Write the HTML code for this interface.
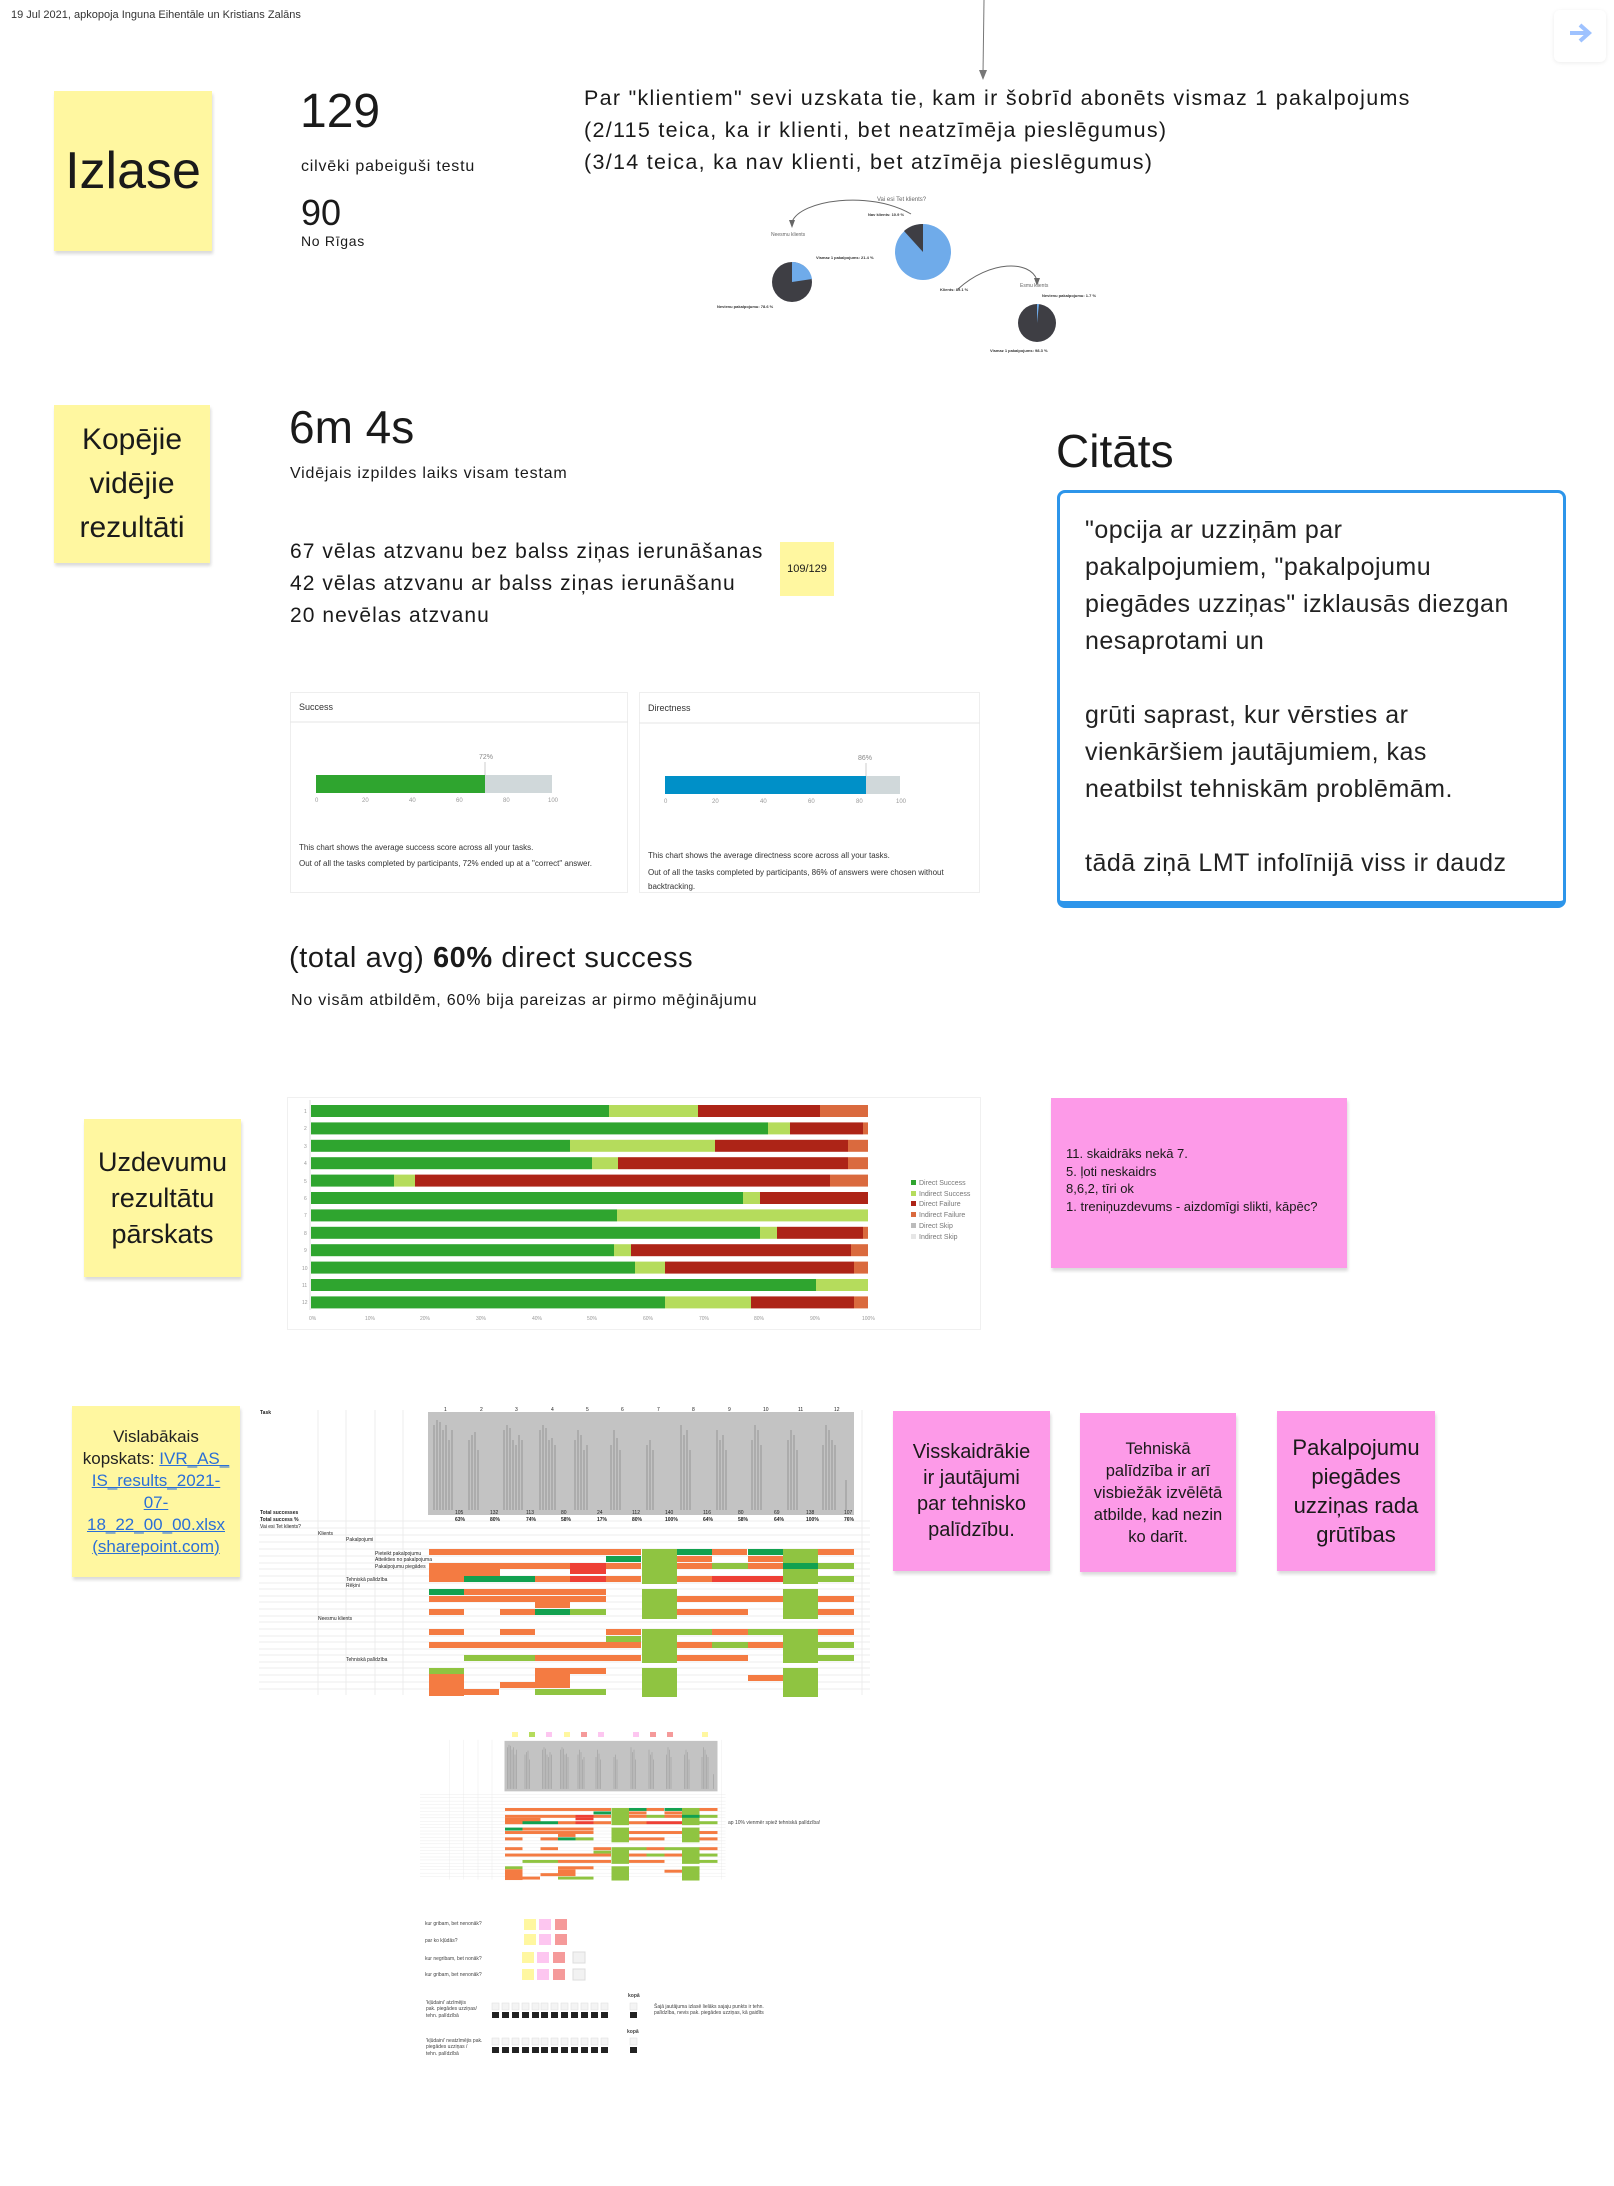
<!DOCTYPE html>
<html><head><meta charset="utf-8"><style>
body{margin:0;width:1614px;height:2186px;position:relative;background:#fff;font-family:"Liberation Sans",sans-serif;color:#1a1a1a;overflow:hidden}
.a{position:absolute;white-space:nowrap}
.st{position:absolute;box-shadow:1px 3px 3px rgba(0,0,0,.15)}
.y{background:#fff7a0}.p{background:#fd9ae8}
.c{text-align:center;white-space:normal;display:flex;align-items:center;justify-content:center;flex-direction:column}
.w{letter-spacing:0.05em}
</style></head><body>
<div class="a" style="left:11px;top:9px;font-size:11px;color:#333">19 Jul 2021, apkopoja Inguna Eihentāle un Kristians Zalāns</div>
<div class="a" style="left:1554px;top:10px;width:52px;height:52px;border-radius:6px;box-shadow:0 1px 4px rgba(0,0,0,.08)"></div>
<svg class="a" style="left:1568px;top:22px" width="26" height="22"><path d="M2,11 H20 M12,3 L21,11 L12,19" fill="none" stroke="#9ec2ff" stroke-width="4"/></svg>

<svg class="a" style="left:0;top:0" width="1614" height="2186">
<line x1="984" y1="0" x2="983" y2="74" stroke="#777" stroke-width="1"/>
<polygon points="979,70 987,70 983,80" fill="#777"/>
<circle cx="923" cy="252" r="28" fill="#6fabea"/>
<path d="M923,252 L923,224 A28,28 0 0,0 904,231 Z" fill="#3e3e44"/>
<circle cx="792" cy="282" r="20" fill="#3e3e44"/>
<path d="M792,282 L792,262 A20,20 0 0,1 812,279 Z" fill="#6fabea"/>
<circle cx="1037" cy="323" r="19" fill="#3e3e44"/>
<path d="M1037,323 L1037,304 A19,19 0 0,1 1039,304 Z" fill="#6fabea"/>
<path d="M911,214 C870,190 800,200 792,222" fill="none" stroke="#666" stroke-width="1"/>
<polygon points="789,220 795,220 792,228" fill="#666"/>
<path d="M958,289 C990,260 1030,260 1037,280" fill="none" stroke="#666" stroke-width="1"/>
<polygon points="1034,278 1040,278 1037,286" fill="#666"/>
<g font-size="4" fill="#333" font-family="Liberation Sans">
<text x="877" y="201" font-size="6" fill="#666">Vai esi Tet klients?</text>
<text x="771" y="236" font-size="5" fill="#666">Neesmu klients</text>
<text x="1020" y="287" font-size="5" fill="#666">Esmu klients</text>
<text x="868" y="216" font-weight="bold">Nav klients: 10.9 %</text>
<text x="816" y="259" font-weight="bold">Vismaz 1 pakalpojums: 21.4 %</text>
<text x="940" y="291" font-weight="bold">Klients: 89.1 %</text>
<text x="717" y="308" font-weight="bold">Nevienu pakalpojumu: 78.6 %</text>
<text x="1042" y="297" font-weight="bold">Nevienu pakalpojumu: 1.7 %</text>
<text x="990" y="352" font-weight="bold">Vismaz 1 pakalpojums: 98.3 %</text>
</g>
<rect x="290.5" y="692.5" width="337" height="200" fill="none" stroke="#eee"/>
<line x1="290" y1="722" x2="628" y2="722" stroke="#e6e6e6"/>
<rect x="316" y="775" width="169" height="18" fill="#2fa52f"/>
<rect x="485" y="775" width="67" height="18" fill="#d0d8da"/>
<line x1="485" y1="762" x2="485" y2="775" stroke="#ccc"/>
<rect x="639.5" y="692.5" width="340" height="200" fill="none" stroke="#eee"/>
<line x1="639" y1="723" x2="980" y2="723" stroke="#e6e6e6"/>
<rect x="665" y="776" width="201" height="18" fill="#0090c8"/>
<rect x="866" y="776" width="34" height="18" fill="#d0d8da"/>
<line x1="866" y1="763" x2="866" y2="776" stroke="#ccc"/>
<g font-size="9" fill="#333">
<text x="299" y="710" font-size="9">Success</text>
<text x="648" y="711">Directness</text>
<text x="479" y="759" font-size="7" fill="#888">72%</text>
<text x="858" y="760" font-size="7" fill="#888">86%</text>
<text x="299" y="850" font-size="8">This chart shows the average success score across all your tasks.</text>
<text x="299" y="866" font-size="8">Out of all the tasks completed by participants, 72% ended up at a "correct" answer.</text>
<text x="648" y="858" font-size="8">This chart shows the average directness score across all your tasks.</text>
<text x="648" y="875" font-size="8">Out of all the tasks completed by participants, 86% of answers were chosen without</text>
<text x="648" y="889" font-size="8">backtracking.</text>
</g>
<g font-size="6" fill="#999">
<text x="315" y="802">0</text><text x="362" y="802">20</text><text x="409" y="802">40</text><text x="456" y="802">60</text><text x="503" y="802">80</text><text x="548" y="802">100</text>
<text x="664" y="803">0</text><text x="712" y="803">20</text><text x="760" y="803">40</text><text x="808" y="803">60</text><text x="856" y="803">80</text><text x="896" y="803">100</text>
</g>
<rect x="287.5" y="1097.5" width="693" height="232" fill="none" stroke="#f0f0f0"/>
<line x1="310" y1="1100" x2="310" y2="1310" stroke="#ddd"/>
<g>
<rect x="311" y="1105" width="298" height="12" fill="#2fa52f"/><rect x="609" y="1105" width="89" height="12" fill="#b5dc5c"/><rect x="698" y="1105" width="122" height="12" fill="#ad2417"/><rect x="820" y="1105" width="48" height="12" fill="#da6a3e"/>
<rect x="311" y="1122.4" width="457" height="12" fill="#2fa52f"/><rect x="768" y="1122.4" width="22" height="12" fill="#b5dc5c"/><rect x="790" y="1122.4" width="73" height="12" fill="#ad2417"/><rect x="863" y="1122.4" width="5" height="12" fill="#da6a3e"/>
<rect x="311" y="1139.8" width="259" height="12" fill="#2fa52f"/><rect x="570" y="1139.8" width="145" height="12" fill="#b5dc5c"/><rect x="715" y="1139.8" width="133" height="12" fill="#ad2417"/><rect x="848" y="1139.8" width="20" height="12" fill="#da6a3e"/>
<rect x="311" y="1157.2" width="281" height="12" fill="#2fa52f"/><rect x="592" y="1157.2" width="26" height="12" fill="#b5dc5c"/><rect x="618" y="1157.2" width="230" height="12" fill="#ad2417"/><rect x="848" y="1157.2" width="20" height="12" fill="#da6a3e"/>
<rect x="311" y="1174.6" width="83" height="12" fill="#2fa52f"/><rect x="394" y="1174.6" width="21" height="12" fill="#b5dc5c"/><rect x="415" y="1174.6" width="415" height="12" fill="#ad2417"/><rect x="830" y="1174.6" width="38" height="12" fill="#da6a3e"/>
<rect x="311" y="1192" width="432" height="12" fill="#2fa52f"/><rect x="743" y="1192" width="17" height="12" fill="#b5dc5c"/><rect x="760" y="1192" width="108" height="12" fill="#ad2417"/>
<rect x="311" y="1209.4" width="306" height="12" fill="#2fa52f"/><rect x="617" y="1209.4" width="251" height="12" fill="#b5dc5c"/>
<rect x="311" y="1226.8" width="449" height="12" fill="#2fa52f"/><rect x="760" y="1226.8" width="17" height="12" fill="#b5dc5c"/><rect x="777" y="1226.8" width="86" height="12" fill="#ad2417"/><rect x="863" y="1226.8" width="5" height="12" fill="#da6a3e"/>
<rect x="311" y="1244.2" width="303" height="12" fill="#2fa52f"/><rect x="614" y="1244.2" width="17" height="12" fill="#b5dc5c"/><rect x="631" y="1244.2" width="220" height="12" fill="#ad2417"/><rect x="851" y="1244.2" width="17" height="12" fill="#da6a3e"/>
<rect x="311" y="1261.6" width="324" height="12" fill="#2fa52f"/><rect x="635" y="1261.6" width="30" height="12" fill="#b5dc5c"/><rect x="665" y="1261.6" width="189" height="12" fill="#ad2417"/><rect x="854" y="1261.6" width="14" height="12" fill="#da6a3e"/>
<rect x="311" y="1279" width="505" height="12" fill="#2fa52f"/><rect x="816" y="1279" width="52" height="12" fill="#b5dc5c"/>
<rect x="311" y="1296.4" width="354" height="12" fill="#2fa52f"/><rect x="665" y="1296.4" width="86" height="12" fill="#b5dc5c"/><rect x="751" y="1296.4" width="103" height="12" fill="#ad2417"/><rect x="854" y="1296.4" width="14" height="12" fill="#da6a3e"/>
</g>
<g font-size="5" fill="#999">
<text x="304" y="1113">1</text><text x="304" y="1130">2</text><text x="304" y="1148">3</text><text x="304" y="1165">4</text><text x="304" y="1183">5</text><text x="304" y="1200">6</text><text x="304" y="1217">7</text><text x="304" y="1235">8</text><text x="304" y="1252">9</text><text x="302" y="1270">10</text><text x="302" y="1287">11</text><text x="302" y="1304">12</text>
<text x="309" y="1320">0%</text><text x="365" y="1320">10%</text><text x="420" y="1320">20%</text><text x="476" y="1320">30%</text><text x="532" y="1320">40%</text><text x="587" y="1320">50%</text><text x="643" y="1320">60%</text><text x="699" y="1320">70%</text><text x="754" y="1320">80%</text><text x="810" y="1320">90%</text><text x="862" y="1320">100%</text>
</g>
<g font-size="7" fill="#777">
<rect x="911" y="1180" width="5" height="5" fill="#2fa52f"/><text x="919" y="1185">Direct Success</text>
<rect x="911" y="1191" width="5" height="5" fill="#b5dc5c"/><text x="919" y="1196">Indirect Success</text>
<rect x="911" y="1201" width="5" height="5" fill="#ad2417"/><text x="919" y="1206">Direct Failure</text>
<rect x="911" y="1212" width="5" height="5" fill="#da6a3e"/><text x="919" y="1217">Indirect Failure</text>
<rect x="911" y="1223" width="5" height="5" fill="#bbb"/><text x="919" y="1228">Direct Skip</text>
<rect x="911" y="1234" width="5" height="5" fill="#e6e6e6"/><text x="919" y="1239">Indirect Skip</text>
</g>

<defs><g id="tbl">
<g stroke="#ececec" stroke-width="1">
<line x1="318" y1="1410" x2="318" y2="1695"/><line x1="346" y1="1410" x2="346" y2="1695"/><line x1="375" y1="1410" x2="375" y2="1695"/><line x1="403" y1="1410" x2="403" y2="1695"/>
<path d="M259,1521H870M259,1528H870M259,1535H870M259,1542H870M259,1549H870M259,1556H870M259,1563H870M259,1569H870M259,1576H870M259,1583H870M259,1589H870M259,1596H870M259,1602H870M259,1609H870M259,1616H870M259,1622H870M259,1629H870M259,1636H870M259,1642H870M259,1649H870M259,1655H870M259,1662H870M259,1668H870M259,1675H870M259,1682H870M259,1689H870"/>
<line x1="862" y1="1410" x2="862" y2="1695"/>
</g>
<rect x="428" y="1412" width="426" height="103" fill="#c3c3c3"/>
<g stroke="#8a8a8a" stroke-width="0.8">
<path d="M434,1425v85M437,1420v90M440,1422v88M443,1430v80M446,1425v85M449,1440v70M452,1430v80 M469,1440v70M472,1435v75M475,1432v78M478,1450v60 M504,1430v80M507,1425v85M510,1428v82M513,1440v70M516,1445v65M519,1435v75M522,1440v70 M540,1430v80M543,1425v85M546,1428v82M549,1440v70M552,1438v72M555,1445v65 M575,1440v70M578,1430v80M581,1435v75M584,1450v60M587,1445v65 M611,1445v65M614,1430v80M617,1438v72M620,1450v60 M647,1445v65M650,1440v70M653,1450v60 M681,1425v85M684,1435v75M687,1430v80M690,1450v60 M717,1430v80M720,1440v70M723,1435v75M726,1450v60 M752,1440v70M755,1425v85M758,1430v80M761,1445v65 M788,1440v70M791,1430v80M794,1435v75M797,1450v60 M823,1445v65M826,1425v85M829,1430v80M832,1440v70M835,1445v65M846,1480v30"/>
</g>
<g>
<rect x="642" y="1549" width="35" height="35" fill="#8fc441"/><rect x="642" y="1589" width="35" height="30" fill="#8fc441"/><rect x="642" y="1629" width="35" height="34" fill="#8fc441"/><rect x="642" y="1668" width="35" height="29" fill="#8fc441"/>
<rect x="783" y="1549" width="35" height="35" fill="#8fc441"/><rect x="783" y="1589" width="35" height="30" fill="#8fc441"/><rect x="783" y="1629" width="35" height="34" fill="#8fc441"/><rect x="783" y="1668" width="35" height="29" fill="#8fc441"/>
<rect x="429" y="1549" width="212" height="6" fill="#f47b42"/><rect x="677" y="1549" width="35" height="6" fill="#12a150"/><rect x="712" y="1549" width="35" height="6" fill="#f47b42"/><rect x="748" y="1549" width="35" height="6" fill="#12a150"/><rect x="818" y="1549" width="36" height="6" fill="#f47b42"/>
<rect x="606" y="1556" width="35" height="6" fill="#12a150"/><rect x="677" y="1556" width="35" height="6" fill="#f47b42"/><rect x="748" y="1556" width="35" height="6" fill="#f47b42"/>
<rect x="429" y="1563" width="141" height="6" fill="#f47b42"/><rect x="570" y="1563" width="36" height="6" fill="#ee4035"/><rect x="606" y="1563" width="35" height="6" fill="#f47b42"/><rect x="677" y="1563" width="35" height="6" fill="#f47b42"/><rect x="712" y="1563" width="36" height="6" fill="#8fc441"/><rect x="748" y="1563" width="35" height="6" fill="#f47b42"/><rect x="783" y="1563" width="35" height="6" fill="#12a150"/><rect x="818" y="1563" width="36" height="6" fill="#8fc441"/>
<rect x="429" y="1569" width="71" height="10" fill="#f47b42"/><rect x="570" y="1569" width="36" height="5" fill="#ee4035"/>
<rect x="429" y="1576" width="35" height="6" fill="#f47b42"/><rect x="464" y="1576" width="71" height="6" fill="#12a150"/><rect x="535" y="1576" width="35" height="6" fill="#f47b42"/><rect x="570" y="1576" width="36" height="6" fill="#ee4035"/><rect x="606" y="1576" width="35" height="6" fill="#f47b42"/><rect x="677" y="1576" width="35" height="6" fill="#f47b42"/><rect x="712" y="1576" width="71" height="6" fill="#ee4035"/><rect x="818" y="1576" width="36" height="6" fill="#8fc441"/>
<rect x="429" y="1589" width="35" height="6" fill="#12a150"/><rect x="464" y="1589" width="142" height="6" fill="#f47b42"/>
<rect x="429" y="1596" width="35" height="6" fill="#f47b42"/><rect x="464" y="1596" width="142" height="6" fill="#f47b42"/><rect x="677" y="1596" width="106" height="6" fill="#f47b42"/><rect x="818" y="1596" width="36" height="6" fill="#f47b42"/>
<rect x="535" y="1602" width="35" height="6" fill="#f47b42"/>
<rect x="429" y="1609" width="35" height="6" fill="#f47b42"/><rect x="500" y="1609" width="35" height="6" fill="#f47b42"/><rect x="535" y="1609" width="35" height="6" fill="#12a150"/><rect x="570" y="1609" width="36" height="6" fill="#8fc441"/><rect x="677" y="1609" width="71" height="6" fill="#f47b42"/><rect x="818" y="1609" width="36" height="6" fill="#f47b42"/>
<rect x="429" y="1629" width="35" height="6" fill="#f47b42"/><rect x="500" y="1629" width="35" height="6" fill="#f47b42"/><rect x="606" y="1629" width="35" height="6" fill="#f47b42"/><rect x="677" y="1629" width="35" height="6" fill="#8fc441"/><rect x="712" y="1629" width="36" height="6" fill="#f47b42"/><rect x="748" y="1629" width="35" height="6" fill="#8fc441"/><rect x="818" y="1629" width="36" height="6" fill="#f47b42"/>
<rect x="606" y="1636" width="35" height="6" fill="#8fc441"/>
<rect x="429" y="1642" width="212" height="6" fill="#f47b42"/><rect x="677" y="1642" width="35" height="6" fill="#f47b42"/><rect x="712" y="1642" width="36" height="6" fill="#8fc441"/><rect x="748" y="1642" width="35" height="6" fill="#f47b42"/><rect x="818" y="1642" width="36" height="6" fill="#8fc441"/>
<rect x="464" y="1655" width="71" height="6" fill="#8fc441"/><rect x="535" y="1655" width="106" height="6" fill="#f47b42"/><rect x="677" y="1655" width="71" height="6" fill="#f47b42"/><rect x="818" y="1655" width="36" height="6" fill="#8fc441"/>
<rect x="429" y="1668" width="35" height="6" fill="#8fc441"/><rect x="535" y="1668" width="71" height="6" fill="#f47b42"/>
<rect x="429" y="1674" width="35" height="22" fill="#f47b42"/><rect x="535" y="1674" width="35" height="14" fill="#f47b42"/><rect x="748" y="1675" width="35" height="6" fill="#f47b42"/>
<rect x="500" y="1682" width="35" height="6" fill="#f47b42"/>
<rect x="464" y="1689" width="35" height="6" fill="#f47b42"/><rect x="535" y="1689" width="71" height="6" fill="#8fc441"/>
</g>
</g></defs>
<use href="#tbl"/>
<g font-size="5" fill="#222">
<text x="260" y="1414" font-weight="bold">Task</text>
<text x="260" y="1514" font-weight="bold">Total successes</text>
<text x="260" y="1521" font-weight="bold">Total success %</text>
<text x="260" y="1528">Vai esi Tet klients?</text>
<text x="318" y="1535">Klients</text>
<text x="346" y="1541">Pakalpojumi</text>
<text x="375" y="1555">Pieteikt pakalpojumu</text>
<text x="375" y="1561">Atteikties no pakalpojuma</text>
<text x="375" y="1568">Pakalpojumu piegādes</text>
<text x="346" y="1581">Tehniskā palīdzība</text>
<text x="346" y="1587">Rēķini</text>
<text x="318" y="1620">Neesmu klients</text>
<text x="346" y="1661">Tehniskā palīdzība</text>
<text x="444" y="1411">1</text><text x="480" y="1411">2</text><text x="515" y="1411">3</text><text x="551" y="1411">4</text><text x="586" y="1411">5</text><text x="621" y="1411">6</text><text x="657" y="1411">7</text><text x="692" y="1411">8</text><text x="728" y="1411">9</text><text x="763" y="1411">10</text><text x="798" y="1411">11</text><text x="834" y="1411">12</text>
<text x="455" y="1514">105</text><text x="490" y="1514">132</text><text x="526" y="1514">113</text><text x="561" y="1514">80</text><text x="597" y="1514">24</text><text x="632" y="1514">112</text><text x="665" y="1514">140</text><text x="703" y="1514">116</text><text x="738" y="1514">80</text><text x="774" y="1514">69</text><text x="806" y="1514">138</text><text x="844" y="1514">107</text>
<text x="455" y="1521" font-weight="bold">63%</text><text x="490" y="1521" font-weight="bold">80%</text><text x="526" y="1521" font-weight="bold">74%</text><text x="561" y="1521" font-weight="bold">58%</text><text x="597" y="1521" font-weight="bold">17%</text><text x="632" y="1521" font-weight="bold">80%</text><text x="665" y="1521" font-weight="bold">100%</text><text x="703" y="1521" font-weight="bold">64%</text><text x="738" y="1521" font-weight="bold">58%</text><text x="774" y="1521" font-weight="bold">64%</text><text x="806" y="1521" font-weight="bold">100%</text><text x="844" y="1521" font-weight="bold">76%</text>
</g>
<g transform="translate(290.5,1049) scale(0.5,0.49)"><use href="#tbl"/></g>
<g>
<rect x="512" y="1732" width="6" height="5" fill="#fff7a0"/><rect x="529" y="1732" width="6" height="5" fill="#b5dc5c"/><rect x="546" y="1732" width="6" height="5" fill="#fdc6f0"/><rect x="564" y="1732" width="6" height="5" fill="#fff7a0"/><rect x="581" y="1732" width="6" height="5" fill="#f59a9a"/><rect x="598" y="1732" width="6" height="5" fill="#fdc6f0"/><rect x="633" y="1732" width="6" height="5" fill="#fdc6f0"/><rect x="650" y="1732" width="6" height="5" fill="#f59a9a"/><rect x="667" y="1732" width="6" height="5" fill="#f59a9a"/><rect x="702" y="1732" width="6" height="5" fill="#fff7a0"/>
</g>
<text x="728" y="1824" font-size="5" fill="#444">ap 10% vienmēr spiež tehniskā palīdzība!</text>
<g>
<rect x="524" y="1919" width="12" height="11" fill="#fff7a0"/><rect x="539" y="1919" width="12" height="11" fill="#fdc6f0"/><rect x="555" y="1919" width="12" height="11" fill="#f59a9a"/>
<rect x="524" y="1934" width="12" height="11" fill="#fff7a0"/><rect x="539" y="1934" width="12" height="11" fill="#fdc6f0"/><rect x="555" y="1934" width="12" height="11" fill="#f59a9a"/>
<rect x="522" y="1952" width="12" height="11" fill="#fff7a0"/><rect x="537" y="1952" width="12" height="11" fill="#fdc6f0"/><rect x="553" y="1952" width="12" height="11" fill="#f59a9a"/><rect x="573" y="1952" width="12" height="11" fill="#f2f2f2" stroke="#ddd"/>
<rect x="522" y="1969" width="12" height="11" fill="#fff7a0"/><rect x="537" y="1969" width="12" height="11" fill="#fdc6f0"/><rect x="553" y="1969" width="12" height="11" fill="#f59a9a"/><rect x="573" y="1969" width="12" height="11" fill="#f2f2f2" stroke="#ddd"/>
</g>
<g fill="#222">
<rect x="492" y="2012" width="7" height="6"/><rect x="502" y="2012" width="7" height="6"/><rect x="512" y="2012" width="7" height="6"/><rect x="522" y="2012" width="7" height="6"/><rect x="532" y="2012" width="7" height="6"/><rect x="541" y="2012" width="7" height="6"/><rect x="551" y="2012" width="7" height="6"/><rect x="561" y="2012" width="7" height="6"/><rect x="571" y="2012" width="7" height="6"/><rect x="581" y="2012" width="7" height="6"/><rect x="591" y="2012" width="7" height="6"/><rect x="601" y="2012" width="7" height="6"/><rect x="630" y="2012" width="7" height="6"/>
<rect x="492" y="2047" width="7" height="6"/><rect x="502" y="2047" width="7" height="6"/><rect x="512" y="2047" width="7" height="6"/><rect x="522" y="2047" width="7" height="6"/><rect x="532" y="2047" width="7" height="6"/><rect x="541" y="2047" width="7" height="6"/><rect x="551" y="2047" width="7" height="6"/><rect x="561" y="2047" width="7" height="6"/><rect x="571" y="2047" width="7" height="6"/><rect x="581" y="2047" width="7" height="6"/><rect x="591" y="2047" width="7" height="6"/><rect x="601" y="2047" width="7" height="6"/><rect x="630" y="2047" width="7" height="6"/>
</g>
<g fill="#f4f4f4" stroke="#ddd" stroke-width=".5">
<rect x="492" y="2003" width="7" height="7"/><rect x="502" y="2003" width="7" height="7"/><rect x="512" y="2003" width="7" height="7"/><rect x="522" y="2003" width="7" height="7"/><rect x="532" y="2003" width="7" height="7"/><rect x="541" y="2003" width="7" height="7"/><rect x="551" y="2003" width="7" height="7"/><rect x="561" y="2003" width="7" height="7"/><rect x="571" y="2003" width="7" height="7"/><rect x="581" y="2003" width="7" height="7"/><rect x="591" y="2003" width="7" height="7"/><rect x="601" y="2003" width="7" height="7"/><rect x="630" y="2003" width="7" height="7"/>
<rect x="492" y="2038" width="7" height="7"/><rect x="502" y="2038" width="7" height="7"/><rect x="512" y="2038" width="7" height="7"/><rect x="522" y="2038" width="7" height="7"/><rect x="532" y="2038" width="7" height="7"/><rect x="541" y="2038" width="7" height="7"/><rect x="551" y="2038" width="7" height="7"/><rect x="561" y="2038" width="7" height="7"/><rect x="571" y="2038" width="7" height="7"/><rect x="581" y="2038" width="7" height="7"/><rect x="591" y="2038" width="7" height="7"/><rect x="601" y="2038" width="7" height="7"/><rect x="630" y="2038" width="7" height="7"/>
</g>
<g font-size="5" fill="#444">
<text x="425" y="1925">kur gribam, bet nenonāk?</text>
<text x="425" y="1942">par ko kļūdās?</text>
<text x="425" y="1960">kur negribam, bet nonāk?</text>
<text x="425" y="1976">kur gribam, bet nenonāk?</text>
<text x="426" y="2004">'kļūdaini' atzīmējis</text>
<text x="426" y="2010">pak. piegādes uzziņas/</text>
<text x="426" y="2017">tehn. palīdzībā</text>
<text x="426" y="2042">'kļūdaini' neatzīmējis pak.</text>
<text x="426" y="2048">piegādes uzziņas /</text>
<text x="426" y="2055">tehn. palīdzībā</text>
<text x="628" y="1997" font-weight="bold">kopā</text>
<text x="627" y="2033" font-weight="bold">kopā</text>
<text x="654" y="2008">Šajā jautājuma izlasē lielāks sajaju punkts ir tehn.</text>
<text x="654" y="2014">palīdzība, nevis pak. piegādes uzziņas, kā gaidīts</text>
</g>
</svg>

<div class="st y c" style="left:54px;top:91px;width:158px;height:160px;font-size:52px">Izlase</div>
<div class="a" style="left:300px;top:84px;font-size:48px">129</div>
<div class="a w" style="left:301px;top:158px;font-size:16px">cilvēki pabeiguši testu</div>
<div class="a" style="left:301px;top:192px;font-size:36px">90</div>
<div class="a w" style="left:301px;top:233px;font-size:14px">No Rīgas</div>
<div class="a" style="left:584px;top:82px;font-size:21.5px;line-height:32px;letter-spacing:0.06em">Par "klientiem" sevi uzskata tie, kam ir šobrīd abonēts vismaz 1 pakalpojums<br>(2/115 teica, ka ir klienti, bet neatzīmēja pieslēgumus)<br>(3/14 teica, ka nav klienti, bet atzīmēja pieslēgumus)</div>

<div class="st y c" style="left:54px;top:405px;width:156px;height:158px;font-size:30px;line-height:44px">Kopējie<br>vidējie<br>rezultāti</div>
<div class="a" style="left:289px;top:400px;font-size:46px">6m 4s</div>
<div class="a w" style="left:290px;top:465px;font-size:16px">Vidējais izpildes laiks visam testam</div>
<div class="a w" style="left:290px;top:536px;font-size:21px;line-height:32px">67 vēlas atzvanu bez balss ziņas ierunāšanas<br>42 vēlas atzvanu ar balss ziņas ierunāšanu<br>20 nevēlas atzvanu</div>
<div class="st y c" style="left:780px;top:542px;width:54px;height:54px;font-size:11px;box-shadow:none">109/129</div>
<div class="a" style="left:1056px;top:424px;font-size:46px">Citāts</div>
<div class="a" style="left:1057px;top:490px;width:503px;height:408px;border:3px solid #2d95ea;border-bottom-width:7px;border-radius:8px"></div>
<div class="a" style="left:1085px;top:512px;font-size:25px;line-height:37px;color:#222;letter-spacing:0.02em">"opcija ar uzziņām par<br>pakalpojumiem, "pakalpojumu<br>piegādes uzziņas" izklausās diezgan<br>nesaprotami un<br><br>grūti saprast, kur vērsties ar<br>vienkāršiem jautājumiem, kas<br>neatbilst tehniskām problēmām.<br><br>tādā ziņā LMT infolīnijā viss ir daudz</div>
<div class="a" style="left:289px;top:942px;font-size:29px;letter-spacing:0.02em">(total avg) <b>60%</b> direct success</div>
<div class="a w" style="left:291px;top:992px;font-size:16px">No visām atbildēm, 60% bija pareizas ar pirmo mēģinājumu</div>

<div class="st y c" style="left:84px;top:1119px;width:157px;height:158px;font-size:27px;line-height:36px">Uzdevumu<br>rezultātu<br>pārskats</div>
<div class="st p" style="left:1051px;top:1098px;width:296px;height:170px"></div>
<div class="a" style="left:1066px;top:1145px;font-size:13px;line-height:17.5px">11. skaidrāks nekā 7.<br>5. ļoti neskaidrs<br>8,6,2, tīri ok<br>1. treniņuzdevums - aizdomīgi slikti, kāpēc?</div>

<div class="st y c" style="left:72px;top:1406px;width:168px;height:171px;font-size:17px;line-height:22px;color:#222"><div>Vislabākais<br>kopskats: <span style="color:#2b6fd6;text-decoration:underline">IVR_AS_<br>IS_results_2021-<br>07-<br>18_22_00_00.xlsx<br>(sharepoint.com)</span></div></div>
<div class="st p c" style="left:893px;top:1411px;width:157px;height:160px;font-size:20px;line-height:26px">Visskaidrākie<br>ir jautājumi<br>par tehnisko<br>palīdzību.</div>
<div class="st p c" style="left:1080px;top:1413px;width:156px;height:159px;font-size:16.5px;line-height:22px">Tehniskā<br>palīdzība ir arī<br>visbiežāk izvēlētā<br>atbilde, kad nezin<br>ko darīt.</div>
<div class="st p c" style="left:1277px;top:1411px;width:158px;height:160px;font-size:22px;line-height:29px">Pakalpojumu<br>piegādes<br>uzziņas rada<br>grūtības</div>
</body></html>
